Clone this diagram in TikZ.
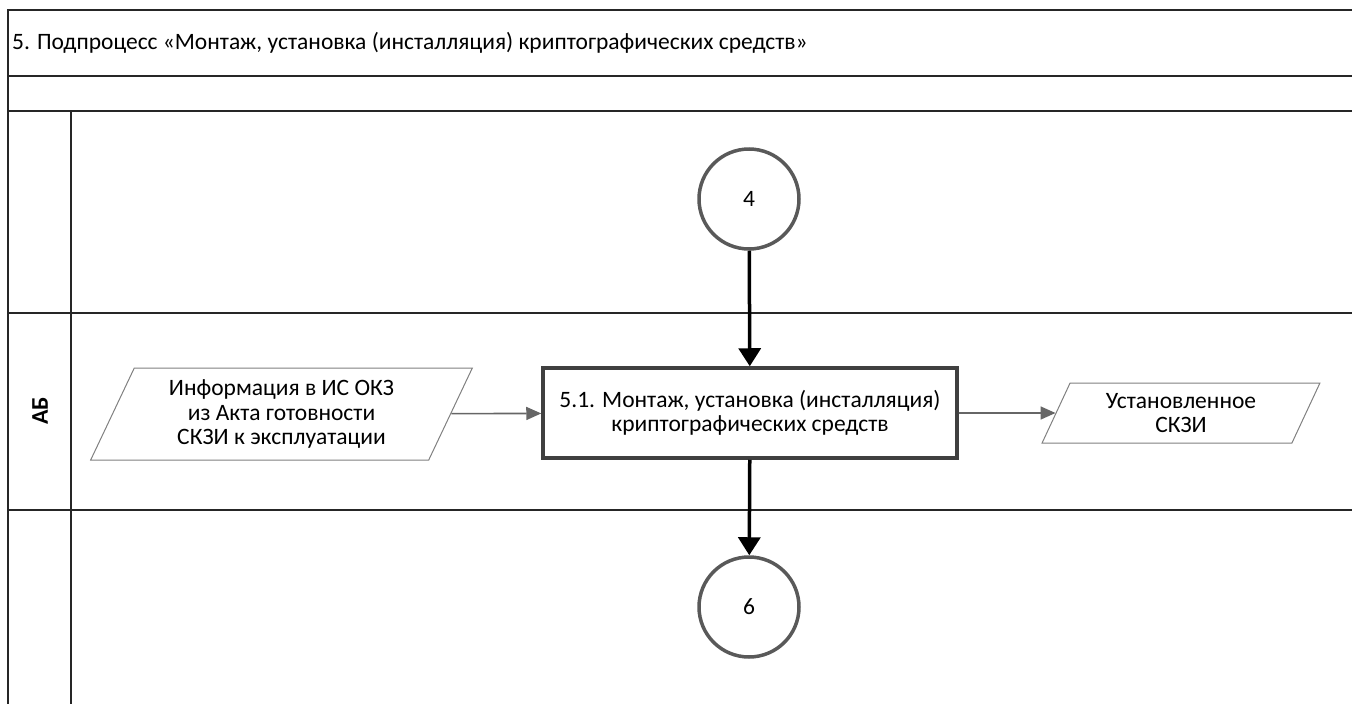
\documentclass[tikz,border=0pt]{standalone}
\usepackage{fontspec}
\setmainfont{Carlito}
\usetikzlibrary{arrows.meta,positioning,shapes.geometric}

\begin{document}
\begin{tikzpicture}[x=1pt, y=-1pt,
  font=\fontsize{23.5pt}{24.5pt}\selectfont,
  lane/.style={line width=1.8pt, draw=black!85},
  proc/.style={draw=black!75, line width=3.5pt, fill=white, align=center,
               minimum width=414pt, minimum height=90pt, inner sep=0pt},
  conn/.style={circle, draw=black!65, line width=3.5pt, fill=white,
               minimum size=100pt, inner sep=0pt},
  data/.style={trapezium, trapezium stretches, draw=black!50, line width=1pt,
               align=center, inner sep=2pt},
  flow/.style={-{Triangle[length=18pt,width=22pt]}, line width=3.5pt, black},
  thinflow/.style={-{Triangle[length=15pt,width=13pt]}, line width=1.6pt, black!60, draw=black!60}
]
\useasboundingbox (0,0) rectangle (1352,704);

% --- Pool and lanes ---
\draw[lane] (1352,10) -- (8,10) -- (8,704);
\draw[lane] (8,76) -- (1352,76);
\draw[lane] (8,111) -- (1352,111);
\draw[lane] (8,313) -- (1352,313);
\draw[lane] (8,510) -- (1352,510);
\draw[lane] (71,111) -- (71,704);

\node[anchor=west, inner sep=0pt] (title) at (12,43)
  {5. Подпроцесс «Монтаж, установка (инсталляция) криптографических средств»};
\node[rotate=90, font=\fontsize{24pt}{24pt}\selectfont\bfseries] (lanename) at (40,411) {АБ};

% --- Nodes ---
\node[proc] (install) at (750,413)
  {5.1. Монтаж, установка (инсталляция)\\криптографических средств};
\node[conn] (in4) at (749,199) {4};
\node[conn] (out6) at (749,607) {6};
\node[data, trapezium left angle=65, trapezium right angle=115,
      minimum width=383pt, minimum height=92pt] (info) at (281.5,414)
  {Информация в ИС ОКЗ\\из Акта готовности\\СКЗИ к эксплуатации};
\node[data, trapezium left angle=66, trapezium right angle=114,
      minimum width=278pt, minimum height=60pt] (skzi) at (1181,413)
  {Установленное\\СКЗИ};

% --- Flows ---
\draw[flow] (in4) -- (install);
\draw[flow] (install) -- (out6);
\draw[thinflow] (info) -- (install);
\draw[thinflow] (install) -- (skzi);

\end{tikzpicture}
\end{document}
